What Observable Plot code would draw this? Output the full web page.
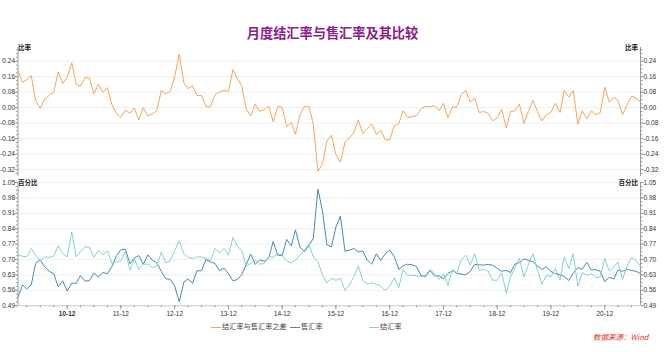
<!DOCTYPE html>
<html><head><meta charset="utf-8">
<script src="https://cdn.jsdelivr.net/npm/d3@7"></script>
<script src="https://cdn.jsdelivr.net/npm/@observablehq/plot@0.6"></script>
<style>
body{margin:0;background:#fff;}
#wrap{position:relative;width:665px;height:352px;font-family:"Liberation Sans","Noto Sans CJK SC",sans-serif;color:#333;}
#title{position:absolute;left:0;width:665px;top:24px;text-align:center;font-size:13.2px;line-height:18px;font-weight:bold;color:#8A1C8C;font-family:"Noto Sans CJK SC",sans-serif;}
.abs{position:absolute;}
.unit{font-size:6.5px;font-weight:bold;color:#222;font-family:"Noto Sans CJK SC",sans-serif;line-height:8px;}
#legend{position:absolute;top:320px;left:0;width:665px;height:12px;font-size:7.2px;font-family:"Noto Sans CJK SC",sans-serif;color:#444;}
.li{position:absolute;top:0;line-height:12px;white-space:nowrap;}
.sw{display:inline-block;width:10px;height:0;border-top:1px solid;vertical-align:middle;margin-right:1px;}
#src{position:absolute;top:331px;left:593px;font-size:7.5px;font-style:italic;color:#E8302E;font-family:"Noto Sans CJK SC",sans-serif;}
svg{overflow:visible;}
</style></head><body>
<div id="wrap">
  <div id="title">月度结汇率与售汇率及其比较</div>
  <div id="top" class="abs" style="left:0;top:40px;"></div>
  <div id="bot" class="abs" style="left:0;top:175px;"></div>
  <div class="abs unit" style="left:18px;top:43px;">比率</div>
  <div class="abs unit" style="left:615px;top:43px;width:23px;text-align:right;">比率</div>
  <div class="abs unit" style="left:18px;top:178px;">百分比</div>
  <div class="abs unit" style="left:610px;top:178px;width:28px;text-align:right;">百分比</div>
  <div id="legend"></div>
  <div id="src">数据来源：Wind</div>
</div>
<script>
const seriesNames = ["结汇率与售汇率之差", "售汇率", "结汇率"];
const seriesColors = ["#F5A65B", "#4A8AB2", "#84D2D3"];

const diff = [0.19,0.13,0.145,0.165,0.037,-0.004,0.045,0.063,0.08,0.185,
0.124,0.155,0.232,0.12,0.11,0.155,0.153,0.072,0.12,0.08,
0.103,0.016,-0.03,-0.05,-0.012,-0.03,-0.002,-0.063,0.0,-0.042,
-0.033,-0.016,0.089,0.072,0.084,0.162,0.277,0.129,0.098,0.113,
0.063,0.063,0.005,0.005,0.068,0.08,0.089,0.084,0.197,0.15,
0.111,-0.007,-0.043,0.019,-0.019,-0.01,0.007,-0.073,0.007,0.002,
-0.098,-0.077,-0.138,-0.037,0.007,0.007,-0.085,-0.33,-0.29,-0.173,
-0.143,-0.242,-0.282,-0.178,-0.159,-0.129,-0.065,-0.134,-0.108,-0.085,
-0.138,-0.117,-0.167,-0.165,-0.094,-0.082,-0.016,-0.05,-0.047,-0.042,
-0.007,0.007,0.005,0.01,-0.016,0.023,-0.054,0.005,0.002,0.066,
0.089,0.028,0.049,-0.025,-0.02,-0.03,-0.068,-0.054,-0.007,-0.106,
-0.02,-0.016,0.019,-0.082,-0.02,0.037,-0.02,-0.068,-0.037,-0.025,
0.023,-0.025,0.089,0.054,0.089,-0.085,-0.016,-0.058,-0.016,-0.037,
-0.025,0.106,0.028,0.054,0.037,-0.037,0.014,0.059,0.05,0.028];

const jie = [0.72,0.715,0.712,0.75,0.72,0.695,0.712,0.71,0.715,0.762,
0.727,0.712,0.825,0.712,0.737,0.757,0.757,0.71,0.741,0.721,
0.739,0.684,0.688,0.695,0.735,0.651,0.705,0.655,0.679,0.679,
0.664,0.67,0.735,0.685,0.694,0.742,0.785,0.727,0.71,0.705,
0.712,0.712,0.705,0.694,0.75,0.73,0.75,0.72,0.80,0.76,
0.742,0.67,0.682,0.697,0.679,0.682,0.715,0.709,0.727,0.72,
0.694,0.685,0.697,0.72,0.742,0.77,0.712,0.69,0.63,0.594,
0.615,0.605,0.615,0.56,0.583,0.621,0.67,0.605,0.59,0.594,
0.588,0.579,0.56,0.579,0.618,0.573,0.655,0.629,0.629,0.626,
0.621,0.63,0.655,0.636,0.61,0.636,0.583,0.655,0.64,0.70,
0.72,0.674,0.727,0.651,0.655,0.648,0.606,0.606,0.64,0.545,
0.621,0.664,0.705,0.621,0.677,0.727,0.651,0.588,0.629,0.621,
0.659,0.606,0.712,0.659,0.727,0.579,0.64,0.629,0.636,0.618,
0.621,0.705,0.648,0.666,0.689,0.61,0.67,0.709,0.697,0.664];

const shou = [0.53,0.585,0.567,0.585,0.683,0.699,0.667,0.647,0.635,0.577,
0.603,0.557,0.593,0.592,0.627,0.602,0.604,0.638,0.621,0.641,
0.636,0.668,0.718,0.745,0.747,0.681,0.707,0.718,0.679,0.721,
0.697,0.686,0.646,0.613,0.61,0.58,0.508,0.598,0.612,0.592,
0.649,0.649,0.70,0.689,0.682,0.65,0.661,0.636,0.603,0.61,
0.631,0.677,0.725,0.678,0.698,0.692,0.708,0.782,0.72,0.718,
0.792,0.762,0.835,0.757,0.735,0.763,0.797,1.02,0.92,0.767,
0.758,0.847,0.897,0.738,0.742,0.75,0.735,0.739,0.698,0.679,
0.726,0.696,0.727,0.744,0.712,0.655,0.671,0.679,0.676,0.668,
0.628,0.623,0.65,0.626,0.626,0.613,0.637,0.65,0.638,0.634,
0.631,0.646,0.678,0.676,0.675,0.678,0.674,0.66,0.647,0.651,
0.641,0.68,0.686,0.703,0.697,0.69,0.671,0.656,0.666,0.646,
0.636,0.631,0.623,0.605,0.638,0.664,0.656,0.687,0.652,0.655,
0.646,0.599,0.62,0.612,0.652,0.647,0.656,0.65,0.647,0.636];

const topTicks = [-0.32,-0.24,-0.16,-0.08,0,0.08,0.16,0.24];
const botTicks = [0.49,0.56,0.63,0.70,0.77,0.84,0.91,0.98,1.05];
const xTickLabels = ["10-12","11-12","12-12","13-12","14-12","15-12","16-12","17-12","18-12","19-12","20-12"];

// dates: monthly from 2010-01
const dates = diff.map((_, i) => new Date(Date.UTC(2010, i, 1)));
const xDomain = [dates[0], dates[dates.length - 1]];
const decDates = xTickLabels.map(s => new Date(Date.UTC(2000 + +s.slice(0,2), +s.slice(3) - 1, 1)));
const quarterDates = dates.filter(d => d.getUTCMonth() % 3 === 2);

const W = 665, ML = 17.5, MR = 25;
const fmt = v => v.toFixed(2);
const axisCol = "#9a9a9a";
const txtCol = "#333";
const FS = 6.5;

const topMinor = d3.range(-34, 31, 2).map(v => v / 100);
const botMinor = d3.range(0, 33).map(k => 0.49 + k * 0.0175).filter(v => v <= 1.0501);

function yAxes(ticks, minor) {
  return [
    Plot.axisY({anchor: "left", ticks: minor, tickSize: 1.5, tickFormat: () => "", stroke: axisCol, label: null}),
    Plot.axisY({anchor: "right", ticks: minor, tickSize: 1.5, tickFormat: () => "", stroke: axisCol, label: null}),
    Plot.axisY({anchor: "left", ticks, tickSize: 2.5, tickPadding: 0.5, tickFormat: fmt, stroke: axisCol, fill: txtCol, fontSize: FS, label: null}),
    Plot.axisY({anchor: "right", ticks, tickSize: 2.5, tickPadding: 0.5, tickFormat: fmt, stroke: axisCol, fill: txtCol, fontSize: FS, label: null})
  ];
}

const topData = dates.map((d, i) => ({date: d, v: diff[i]}));
const topPlot = Plot.plot({
  width: W, height: 140,
  marginLeft: ML, marginRight: MR, marginTop: 7, marginBottom: 4,
  x: {type: "utc", domain: xDomain, axis: null},
  y: {domain: [-0.356, 0.311]},
  style: {fontFamily: "Liberation Sans, Noto Sans CJK SC, sans-serif", fontSize: FS + "px", background: "transparent"},
  marks: [
    Plot.ruleY(topTicks, {stroke: "#efefef", strokeWidth: 1}),
    Plot.ruleX([xDomain[0], xDomain[1]], {stroke: axisCol}),
    ...yAxes(topTicks, topMinor),
    Plot.line(topData, {x: "date", y: "v", stroke: seriesColors[0], strokeWidth: 1})
  ]
});
document.getElementById("top").appendChild(topPlot);

const botData = [];
dates.forEach((d, i) => {
  botData.push({date: d, v: shou[i], s: seriesNames[1]});
});
dates.forEach((d, i) => {
  botData.push({date: d, v: jie[i], s: seriesNames[2]});
});

const botPlot = Plot.plot({
  width: W, height: 160,
  marginLeft: ML, marginRight: MR, marginTop: 7, marginBottom: 29.7,
  x: {type: "utc", domain: xDomain},
  y: {domain: [0.49, 1.05]},
  color: {domain: seriesNames.slice(1), range: seriesColors.slice(1)},
  style: {fontFamily: "Liberation Sans, Noto Sans CJK SC, sans-serif", fontSize: FS + "px", background: "transparent"},
  marks: [
    Plot.ruleY(botTicks.slice(1), {stroke: "#efefef", strokeWidth: 1}),
    Plot.ruleX([xDomain[0], xDomain[1]], {stroke: axisCol}),
    Plot.ruleY([0.49], {stroke: "#c8c8c8"}),
    ...yAxes(botTicks, botMinor),
    Plot.axisX({ticks: quarterDates, tickSize: 2, tickFormat: () => "", stroke: axisCol, label: null}),
    Plot.axisX({ticks: decDates, tickSize: 4, tickPadding: 1.5, tickFormat: (d, i) => xTickLabels[i], stroke: axisCol, fill: txtCol, fontSize: FS, label: null}),
    Plot.line(botData, {x: "date", y: "v", z: "s", stroke: "s", strokeWidth: 1})
  ]
});
document.getElementById("bot").appendChild(botPlot);

// bold first x label like the reference
botPlot.querySelectorAll("text").forEach(t => { if (t.textContent === "10-12") t.setAttribute("font-weight", "bold"); });

// legend
const legend = document.getElementById("legend");
const lpos = [211, 290, 369];
seriesNames.forEach((n, i) => {
  const el = document.createElement("div");
  el.className = "li";
  el.style.left = lpos[i] + "px";
  el.innerHTML = `<span class="sw" style="border-color:${seriesColors[i]}"></span>${n}`;
  legend.appendChild(el);
});
</script>
</body></html>
